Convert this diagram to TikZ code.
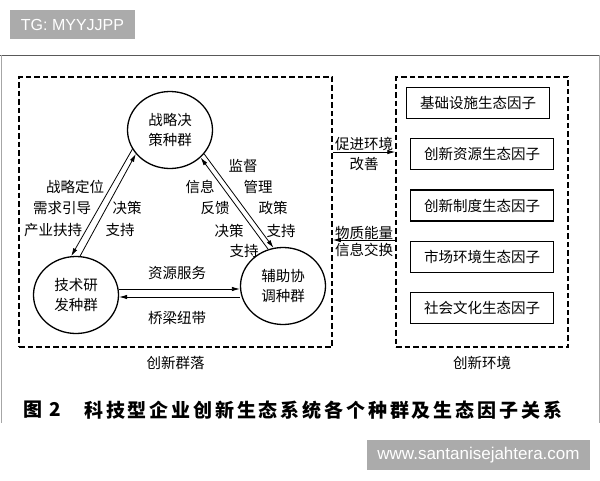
\documentclass[tikz,border=0pt]{standalone}
\usepackage{fontspec}
\setmainfont{Noto Sans CJK SC}
\newfontfamily\wmfont{Liberation Sans}
\usepackage{tikz}
\usetikzlibrary{arrows, arrows.meta, positioning, shapes.geometric}

\begin{document}
\begin{tikzpicture}[x=1pt, y=-1pt, >={Latex[length=8pt, width=4.5pt]},
    node distance=19pt,           % Gap between the factor boxes
    every node/.style={font=\fontsize{14.5}{20}\selectfont,
                       align=center,
                       inner sep=1pt},
    population/.style={ellipse, draw=black, line width=1.3pt,
                       minimum width=85pt, minimum height=77pt},
    factor/.style={rectangle, draw=black, line width=1.3pt,
                   minimum width=143pt, minimum height=31pt},
    groupbox/.style={rectangle, draw=black, line width=1.5pt,
                     dash pattern=on 5.5pt off 3pt},
    link/.style={->, line width=0.8pt},
    tag/.style={fill=black!33, text=white, inner sep=0pt,
                font=\wmfont\fontsize{16}{18}\selectfont}]

  \useasboundingbox (0,0) rectangle (600,480);
  \fill[white] (0,0) rectangle (600,480);

  % Frame of the scanned page
  \draw[black!65, line width=1pt] (0,55) -- (600,55);
  \draw[black!35, line width=1pt] (1,55) -- (1,423) (599,55) -- (599,423);

  % Define the two dashed groups
  \node[groupbox, minimum width=313pt, minimum height=270pt] (Community) at (175.5,212) {};
  \node[groupbox, minimum width=172pt, minimum height=270pt] (Environment) at (482,212) {};
  \node (CommunityName) [below=7pt of Community] {创新群落};
  \node (EnvironmentName) [below=7pt of Environment] {创新环境};

  % Populations
  \node[population] (Strategy) at (170,130) {战略决\\策种群};
  \node[population] (TechRD) at (76,295) {技术研\\发种群};
  \node[population] (Support) at (283,286) {辅助协\\调种群};

  % Ecological factors in a vertical stack
  \node[factor] (Infra) at (478,103) {基础设施生态因子};
  \node[factor] (Resource) [below=of Infra, xshift=4pt] {创新资源生态因子};
  \node[factor] (Institution) [below=of Resource] {创新制度生态因子};
  \node[factor] (Market) [below=of Institution] {市场环境生态因子};
  \node[factor] (Culture) [below=of Market] {社会文化生态因子};

  % Arrows between populations
  \draw[link] (Strategy.207) -- (TechRD.97);
  \draw[link] (TechRD.84) -- (Strategy.215);
  \draw[link] (Strategy.325) -- (Support.104);
  \draw[link] (Support.112) -- (Strategy.318);
  \draw[link] ([yshift=6pt]TechRD.east) -- ([yshift=6pt]TechRD.east -| Support.west);
  \draw[link] ([yshift=-2pt]TechRD.east -| Support.west) -- ([yshift=-2pt]TechRD.east);

  % Labels on the arrows
  \node (Positioning) at (75,187) {战略定位};
  \node (Guidance) at (62,208) {需求引导};
  \node (Backing) at (53,230) {产业扶持};
  \node (DecisionL) at (127,208) {决策};
  \node (SupportL) at (120,230) {支持};
  \node (Supervise) at (243,166) {监督};
  \node (Manage) at (258,187) {管理};
  \node (Policy) at (273,208) {政策};
  \node (PolicySupport) at (281,231) {支持};
  \node (Info) at (200,187) {信息};
  \node (Feedback) at (215,208) {反馈};
  \node (DecisionR) at (229,231) {决策};
  \node (DecisionSupport) at (244,251) {支持};
  \node (Service) at (177,273) {资源服务};
  \node (Bridge) at (177,318) {桥梁纽带};

  % Arrows between the groups
  \draw[link] ([yshift=60pt]Community.east) -- ([yshift=60pt]Community.east -| Environment.west)
    node[midway, above] {促进环境} node[midway, below=4pt] {改善};
  \draw[link] ([yshift=-28pt]Community.east -| Environment.west) -- ([yshift=-28pt]Community.east)
    node[midway, above, inner sep=0pt] {物质能量} node[midway, below=2pt] {信息交换};

  % Caption
  \node (FigNum) at (42,410) {\fontsize{19}{22}\selectfont\bfseries 图\hspace{7pt}2};
  \node (Caption) [anchor=west] at (83,410)
    {\fontsize{19}{22}\selectfont\bfseries\addfontfeature{LetterSpace=15}科技型企业创新生态系统各个种群及生态因子关系};

  % Watermarks
  \node[tag, minimum width=125pt, minimum height=29pt] (TopTag) at (72.5,24.5) {TG: MYYJJPP};
  \node[tag, minimum width=223pt, minimum height=30pt] (BottomTag) at (478.5,455)
    {\fontsize{17}{19}\selectfont www.santanisejahtera.com};

\end{tikzpicture}
\end{document}
